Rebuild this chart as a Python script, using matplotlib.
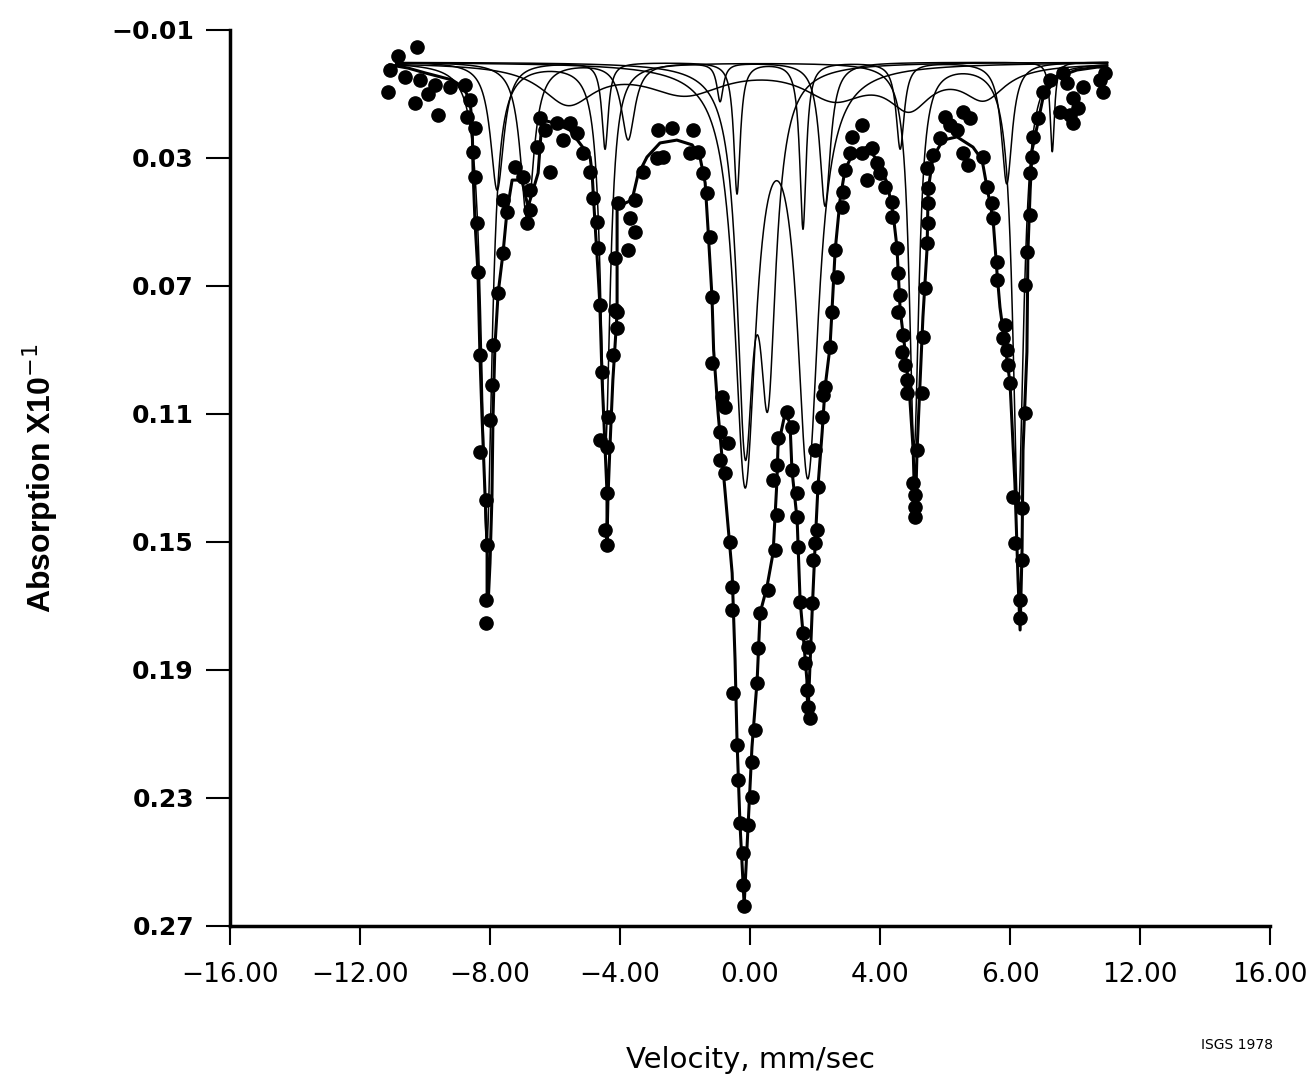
import numpy as np
import matplotlib
matplotlib.use("Agg")
import matplotlib.pyplot as plt

# observed spectrum (velocity mm/s, absorption x10^-1)
obs_v = [-10.25, -10.83, -11.08, -11.14, -10.31, -9.60, -10.62, -10.15, -9.69, -9.23, -9.90,
         -8.77, -8.62, -8.71, -8.46, -8.52, -8.46, -8.40, -8.37, -8.31, -8.31, -8.12, -8.09,
         -8.12, -8.12, -7.91, -7.94, -8.00, -7.75, -7.60, -7.48, -7.60, -7.23, -6.98, -6.77,
         -6.77, -6.86, -6.15, -6.46, -6.55, -5.94, -5.54, -5.32, -5.14, -6.30, -5.75,
         -4.92, -4.83, -4.71, -4.68, -4.62, -4.55, -4.37, -4.62, -4.40, -4.40, -4.46, -4.40,
         -4.09, -4.09, -4.22, -4.15, -4.15, -3.75, -3.54, -3.69, -4.06, -3.54, -3.29, -2.86,
         -2.83, -2.40, -1.75, -2.68, -1.85, -1.60, -1.45, -1.32, -1.23, -1.17, -1.17,
         -0.86, -0.77, -0.92, -0.68, -0.92, -0.77, -0.62, -0.55, -0.55, -0.52, -0.40, -0.37,
         -0.31, -0.22, -0.22, -0.18, -0.06, 0.06, 0.06, 0.15, 0.22, 0.25, 0.31, 0.55, 0.77,
         0.83, 0.71, 0.83, 0.86, 1.14, 1.29, 1.29, 1.45, 1.45, 1.48, 1.54, 1.63, 1.78, 1.69,
         1.75, 1.78, 1.85, 1.91, 1.94, 2.00, 2.06, 2.09, 2.00, 2.22, 2.31, 2.46, 2.52, 2.25,
         2.62, 2.68, 2.83, 2.86, 2.92, 3.08, 3.45, 3.75, 3.91, 4.00, 3.14, 3.45, 3.60, 4.15,
         4.37, 4.37, 4.52, 4.55, 4.62, 4.55, 4.71, 4.68, 4.77, 4.83, 4.83, 5.14, 5.02, 5.08,
         5.08, 5.08, 5.38, 5.32, 5.29, 5.45, 5.48, 5.48, 5.48, 5.45, 5.63, 5.85, 6.00, 6.55,
         6.77, 6.37, 6.55, 6.71, 6.15, 7.17, 7.29, 7.45, 7.48, 7.60, 7.60, 7.85, 7.78, 7.91,
         7.94, 8.00, 8.09, 8.37, 8.15, 8.37, 8.31, 8.31, 8.52, 8.46, 8.46, 8.62, 8.62, 8.68,
         8.71, 8.86, 9.02, 9.23, 9.63, 9.94, 10.09, 9.85, 9.54, 9.94, 9.75, 10.25, 10.77,
         10.86, 10.92]
obs_a = [-0.0047, -0.0019, 0.0025, 0.0094, 0.0128, 0.0166, 0.0047, 0.0056, 0.0072, 0.0078, 0.0100,
         0.0072, 0.0119, 0.0172, 0.0206, 0.0281, 0.0359, 0.0503, 0.0656, 0.0916, 0.1219, 0.1369, 0.1509,
         0.1681, 0.1753, 0.0884, 0.1009, 0.1119, 0.0722, 0.0597, 0.0469, 0.0431, 0.0328, 0.0359, 0.0400,
         0.0463, 0.0503, 0.0344, 0.0175, 0.0266, 0.0191, 0.0191, 0.0222, 0.0284, 0.0213, 0.0244,
         0.0344, 0.0425, 0.0500, 0.0581, 0.0759, 0.0969, 0.1109, 0.1181, 0.1203, 0.1347, 0.1463, 0.1509,
         0.0781, 0.0831, 0.0916, 0.0775, 0.0613, 0.0588, 0.0531, 0.0488, 0.0441, 0.0431, 0.0344, 0.0300,
         0.0213, 0.0206, 0.0213, 0.0297, 0.0284, 0.0281, 0.0347, 0.0409, 0.0547, 0.0734, 0.0941,
         0.1047, 0.1078, 0.1156, 0.1191, 0.1244, 0.1284, 0.1500, 0.1641, 0.1713, 0.1972, 0.2134, 0.2244,
         0.2378, 0.2472, 0.2572, 0.2638, 0.2384, 0.2297, 0.2188, 0.2088, 0.1941, 0.1831, 0.1722, 0.1650, 0.1525,
         0.1416, 0.1306, 0.1259, 0.1175, 0.1094, 0.1141, 0.1275, 0.1347, 0.1422, 0.1516, 0.1688, 0.1784, 0.1828, 0.1878,
         0.1963, 0.2016, 0.2050, 0.1691, 0.1556, 0.1503, 0.1463, 0.1328, 0.1213, 0.1109, 0.1016, 0.0891, 0.0781, 0.1041,
         0.0588, 0.0672, 0.0453, 0.0406, 0.0338, 0.0284, 0.0284, 0.0269, 0.0316, 0.0347, 0.0234, 0.0197, 0.0369, 0.0391,
         0.0438, 0.0484, 0.0581, 0.0659, 0.0728, 0.0781, 0.0853, 0.0906, 0.0947, 0.0994, 0.1034, 0.1213, 0.1316, 0.1353,
         0.1391, 0.1422, 0.0706, 0.0859, 0.1034, 0.0566, 0.0503, 0.0441, 0.0394, 0.0331, 0.0291, 0.0238, 0.0172, 0.0156,
         0.0175, 0.0213, 0.0284, 0.0322, 0.0197, 0.0297, 0.0391, 0.0441, 0.0488, 0.0625, 0.0681, 0.0822, 0.0863, 0.0900,
         0.0947, 0.1003, 0.1359, 0.1394, 0.1503, 0.1556, 0.1681, 0.1738, 0.0594, 0.0697, 0.1097, 0.0478, 0.0347, 0.0297,
         0.0234, 0.0175, 0.0094, 0.0056, 0.0034, 0.0113, 0.0144, 0.0166, 0.0156, 0.0191, 0.0066, 0.0078, 0.0056,
         0.0094, 0.0034]

# fitted envelope
fit_v = [-11.08, -10.52, -10.00, -9.17, -8.83, -8.62, -8.55, -8.52, -8.46, -8.37, -8.31, -8.25,
         -8.15, -8.09, -8.09, -8.06, -8.00, -7.94, -7.91, -7.85, -7.75, -7.60, -7.48, -7.32,
         -7.02, -6.83, -6.52, -6.40, -6.00, -5.54, -4.92, -4.86, -4.77, -4.68, -4.62, -4.55,
         -4.46, -4.40, -4.40, -4.37, -4.31, -4.22, -4.09, -4.09, -4.09, -3.63, -3.45, -3.17,
         -2.77, -2.25, -1.78, -1.54, -1.38, -1.29, -1.17, -1.12, -0.98, -0.77, -0.55, -0.46,
         -0.40, -0.31, -0.22, -0.18, -0.06, 0.06, 0.22, 0.31, 0.52, 0.71, 0.83, 0.86, 1.08,
         1.23, 1.29, 1.45, 1.54, 1.63, 1.75, 1.78, 1.91, 2.00, 2.09, 2.22, 2.31, 2.46, 2.52,
         2.62, 2.77, 2.92, 3.17, 3.60, 3.91, 4.22, 4.40, 4.52, 4.62, 4.77, 4.92, 5.02, 5.08,
         5.14, 5.23, 5.32, 5.45, 5.48, 5.63, 5.94, 6.37, 6.86, 7.14, 7.29, 7.48, 7.60, 7.69,
         8.00, 8.15, 8.25, 8.31, 8.37, 8.40, 8.52, 8.55, 8.62, 8.68, 8.83, 9.02, 9.45, 10.06,
         10.68, 10.98]
fit_a = [0.0009, 0.0019, 0.0034, 0.0056, 0.0078, 0.0119, 0.0191, 0.0347, 0.0503, 0.0659, 0.0916, 0.1097,
         0.1359, 0.1516, 0.1659, 0.1697, 0.1566, 0.1359, 0.1119, 0.0891, 0.0722, 0.0597, 0.0469, 0.0369,
         0.0369, 0.0453, 0.0347, 0.0181, 0.0191, 0.0213, 0.0297, 0.0347, 0.0503, 0.0650, 0.0759, 0.0994,
         0.1203, 0.1347, 0.1494, 0.1359, 0.1203, 0.0994, 0.0784, 0.0609, 0.0453, 0.0431, 0.0353, 0.0297,
         0.0253, 0.0244, 0.0259, 0.0297, 0.0378, 0.0525, 0.0734, 0.0900, 0.1100, 0.1340, 0.1597, 0.1869,
         0.2119, 0.2378, 0.2556, 0.2634, 0.2384, 0.2141, 0.1931, 0.1722, 0.1641, 0.1534, 0.1306, 0.1203, 0.1097,
         0.1128, 0.1275, 0.1431, 0.1681, 0.1784, 0.1931, 0.2050, 0.1722, 0.1516, 0.1328, 0.1156, 0.1016, 0.0891, 0.0781,
         0.0588, 0.0431, 0.0338, 0.0284, 0.0266, 0.0306, 0.0378, 0.0472, 0.0578, 0.0775, 0.0900, 0.1056, 0.1213, 0.1431,
         0.1213, 0.1003, 0.0797, 0.0578, 0.0400, 0.0297, 0.0244, 0.0234, 0.0266, 0.0306, 0.0391, 0.0494, 0.0659, 0.0766,
         0.1003, 0.1316, 0.1628, 0.1775, 0.1525, 0.1213, 0.0906, 0.0594, 0.0400, 0.0275, 0.0203, 0.0109, 0.0047, 0.0025,
         0.0016, 0.0016]

# subspectra: line positions, depths, half widths
main_pos = [-8.10, -4.45, 5.05, 8.25]
main_depth = [0.150, 0.120, 0.120, 0.140]
main_hw = [0.20, 0.18, 0.18, 0.20]

narrow_pos = [-7.78, -4.46, -0.40, 1.63, 4.62, 7.90]
narrow_depth = [0.040, 0.027, 0.041, 0.052, 0.027, 0.038]
narrow_hw = [0.25, 0.12, 0.12, 0.12, 0.15, 0.20]

second_pos = [-6.86, -3.75, -0.92, 2.31, 9.30]
second_depth = [0.049, 0.024, 0.012, 0.045, 0.028]
second_hw = [0.25, 0.25, 0.12, 0.20, 0.08]

dbl1_pos = [-0.15, 1.78]
dbl1_depth = [0.128, 0.125]
dbl1_hw = [0.40, 0.40]

dbl2_pos = [-0.15, 0.55]
dbl2_depth = [0.110, 0.092]
dbl2_hw = [0.30, 0.30]

broad_pos = [-5.6, -2.0, 2.6, 4.9, 7.2]
broad_depth = [0.012, 0.009, 0.010, 0.012, 0.010]
broad_hw = [1.0, 1.5, 1.2, 0.8, 0.8]

xtick_pos = [-16, -12, -8, -4, 0, 4, 8, 12, 16]
xtick_lab = ["\u221216.00", "\u221212.00", "\u22128.00", "\u22124.00", "0.00", "4.00", "6.00", "12.00", "16.00"]
ytick_pos = [-0.01, 0.03, 0.07, 0.11, 0.15, 0.19, 0.23, 0.27]
ytick_lab = ["\u22120.01", "0.03", "0.07", "0.11", "0.15", "0.19", "0.23", "0.27"]


def lorentz_sum(v, pos, depth, hw):
    out = np.zeros_like(v)
    for c, d, g in zip(pos, depth, hw):
        out += d * g ** 2 / ((v - c) ** 2 + g ** 2)
    return out


fig = plt.figure(figsize=(13.14, 10.88), dpi=100)
ax = fig.add_axes([0.17504, 0.1489, 0.7915, 0.82353])

vv = np.linspace(-10.9, 11.0, 3000)
for p, d, w in [(main_pos, main_depth, main_hw), (narrow_pos, narrow_depth, narrow_hw),
                (second_pos, second_depth, second_hw), (dbl1_pos, dbl1_depth, dbl1_hw),
                (dbl2_pos, dbl2_depth, dbl2_hw), (broad_pos, broad_depth, broad_hw)]:
    ax.plot(vv, lorentz_sum(vv, p, d, w), color="black", lw=1.1)

ax.plot(fit_v, fit_a, color="black", lw=2.2)
ax.plot(obs_v, obs_a, "o", color="black", ms=9.5, mec="black")

ax.set_xlim(-16, 16)
ax.set_ylim(0.27, -0.01)
ax.spines["top"].set_visible(False)
ax.spines["right"].set_visible(False)
ax.spines["left"].set_linewidth(2.5)
ax.spines["bottom"].set_linewidth(2.5)

ax.set_xticks(xtick_pos, xtick_lab)
ax.set_yticks(ytick_pos, ytick_lab)
ax.tick_params(axis="x", length=14, width=1.5, pad=12, labelsize=19)
ax.tick_params(axis="y", length=17, width=1.5, pad=9, labelsize=18)
for t in ax.get_yticklabels():
    t.set_fontweight("bold")

fig.text(40 / 1314, 1 - 478 / 1088, "Absorption X10$^{-1}$", rotation=90,
         ha="center", va="center", fontsize=23, fontweight="bold", family="Liberation Sans")
fig.text(750 / 1314, 1 - 1060 / 1088, "Velocity, mm/sec", ha="center", va="center", fontsize=21)
fig.text(1237 / 1314, 1 - 1045 / 1088, "ISGS 1978", ha="center", va="center", fontsize=10)

fig.savefig("out.png", dpi=100)
